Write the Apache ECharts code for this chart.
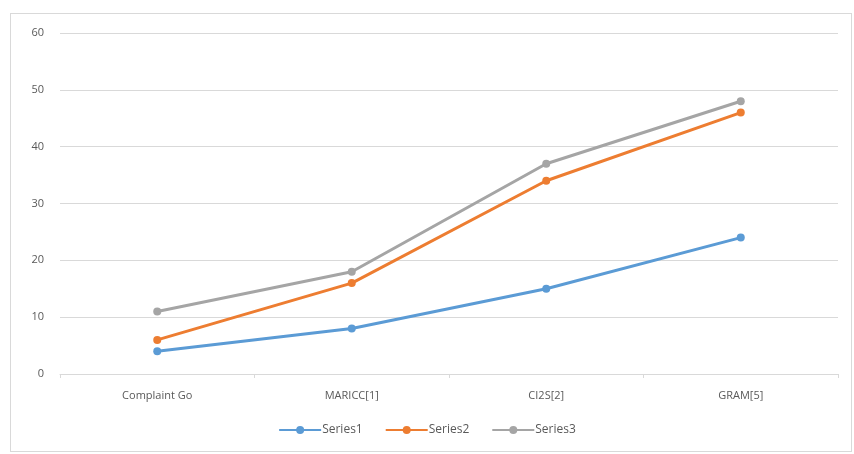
<!DOCTYPE html>
<html>
<head>
<meta charset="utf-8">
<script src="https://cdn.jsdelivr.net/npm/echarts@6/dist/echarts.min.js"></script>
<style>
  html, body { margin: 0; padding: 0; background: #fff; }
  #main { width: 854px; height: 454px; }
  #frame { position: absolute; left: 10px; top: 13px; width: 842px; height: 439px; border: 1px solid #d9d9d9; box-sizing: border-box; pointer-events: none; }
</style>
</head>
<body>
<div id="main"></div>
<div id="frame"></div>
<script>
// categories and values
var categories = ["Complaint Go", "MARICC[1]", "CI2S[2]", "GRAM[5]"];
var series1 = [4, 8, 15, 24];
var series2 = [6, 16, 34, 46];
var series3 = [11, 18, 37, 48];
var seriesNames = ["Series1", "Series2", "Series3"];
var colors = ["#5b9bd5", "#ed7d31", "#a5a5a5"];

var chart = echarts.init(document.getElementById("main"));

function line(name, data, color) {
    return {
        name: name,
        type: "line",
        data: data,
        symbol: "circle",
        symbolSize: 8,
        lineStyle: {width: 3, color: color},
        itemStyle: {color: color},
        animation: false
    };
}

chart.setOption({
    textStyle: {fontFamily: "Open Sans"},
    grid: {left: 60, right: 16, top: 33, bottom: 80},
    legend: {
        bottom: 13,
        left: "center",
        itemWidth: 42,
        itemHeight: 10,
        itemGap: 22,
        textStyle: {color: "#595959", fontSize: 12, padding: [0, 0, 0, -4]},
        data: seriesNames
    },
    xAxis: {
        type: "category",
        data: categories,
        axisLine: {lineStyle: {color: "#d9d9d9", width: 1}},
        axisTick: {show: true, length: 4, lineStyle: {color: "#d9d9d9"}},
        axisLabel: {color: "#595959", fontSize: 11, margin: 16}
    },
    yAxis: {
        type: "value",
        min: 0,
        max: 60,
        interval: 10,
        axisLine: {show: false},
        axisTick: {show: false},
        axisLabel: {color: "#595959", fontSize: 11, margin: 16},
        splitLine: {lineStyle: {color: "#d9d9d9", width: 1}}
    },
    series: [
        line(seriesNames[0], series1, colors[0]),
        line(seriesNames[1], series2, colors[1]),
        line(seriesNames[2], series3, colors[2])
    ]
});
</script>
</body>
</html>
